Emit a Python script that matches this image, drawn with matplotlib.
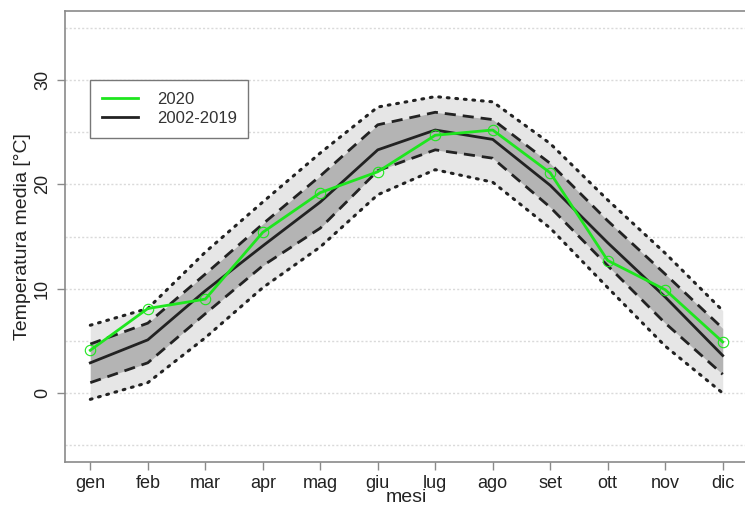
import matplotlib
matplotlib.use("Agg")
import matplotlib.pyplot as plt
from matplotlib.lines import Line2D

plt.rcParams['font.family'] = ['Liberation Sans', 'DejaVu Sans']

months = ["gen", "feb", "mar", "apr", "mag", "giu", "lug", "ago", "set", "ott", "nov", "dic"]

# 2002-2019 climatology: mean, inner band (dashed) and outer band (dotted)
clim_mean = [2.9, 5.1, 9.8, 14.1, 18.3, 23.3, 25.2, 24.3, 19.9, 14.4, 9.2, 3.6]
inner_hi = [4.7, 6.7, 11.4, 16.2, 20.8, 25.7, 26.9, 26.2, 22.0, 16.5, 11.4, 6.2]
inner_lo = [1.0, 2.9, 7.6, 12.2, 15.8, 21.3, 23.3, 22.5, 17.8, 12.2, 6.7, 1.8]
outer_hi = [6.5, 8.1, 13.5, 18.3, 23.0, 27.4, 28.4, 27.9, 23.9, 18.5, 13.4, 7.9]
outer_lo = [-0.6, 1.0, 5.3, 10.1, 14.0, 19.0, 21.4, 20.2, 15.8, 10.1, 4.5, 0.0]

# 2020 monthly mean temperature
t2020 = [4.1, 8.1, 9.0, 15.4, 19.2, 21.2, 24.7, 25.2, 21.1, 12.7, 9.9, 4.9]

y_ticks = [0, 10, 20, 30]
grid_levels = [-5, 0, 5, 10, 15, 20, 25, 30, 35]

x = list(range(1, 13))
green = '#1ee61e'
axis_col = '#8a8a8a'

fig = plt.figure(figsize=(7.45, 5.08), dpi=100)
ax = fig.add_axes([65 / 745, 46 / 508, (748 - 65) / 745, (497 - 46) / 508])

for g in grid_levels:
    ax.axhline(g, color='#dadada', lw=1, ls=(0, (1.5, 1.5)), zorder=0)

ax.fill_between(x, outer_lo, outer_hi, color='#e6e6e6', lw=0, zorder=1)
ax.fill_between(x, inner_lo, inner_hi, color='#b4b4b4', lw=0, zorder=2)

ax.plot(x, outer_hi, color='#222222', lw=2.2, ls=(0, (0.6, 2.2)), dash_capstyle='round', zorder=3)
ax.plot(x, outer_lo, color='#222222', lw=2.2, ls=(0, (0.6, 2.2)), dash_capstyle='round', zorder=3)
ax.plot(x, inner_hi, color='#222222', lw=2.0, ls=(0, (4, 2.5)), zorder=3)
ax.plot(x, inner_lo, color='#222222', lw=2.0, ls=(0, (4, 2.5)), zorder=3)
ax.plot(x, clim_mean, color='#222222', lw=2.0, zorder=4)
ax.plot(x, t2020, color=green, lw=2.0, marker='o', ms=7.5, mfc='none', mec=green, mew=0.8, zorder=5)

ax.set_xlim(0.56, 12.44)
ax.set_ylim(-6.6, 36.6)
ax.set_xticks(x)
ax.set_xticklabels(months, fontsize=13, color='#222222')
ax.set_yticks(y_ticks)
ax.set_yticklabels([str(v) for v in y_ticks], fontsize=13, color='#222222', rotation=90, va='center')
ax.tick_params(axis='both', color=axis_col, length=6, width=1)
ax.tick_params(axis='x', pad=3)
ax.tick_params(axis='y', pad=4)
for s in ax.spines.values():
    s.set_color(axis_col)
    s.set_linewidth(1.2)

ax.set_xlabel("mesi", fontsize=14, color='#222222', labelpad=-2)
ax.set_ylabel("Temperatura media [°C]", fontsize=14, color='#222222', labelpad=2)

handles = [Line2D([], [], color=green, lw=2), Line2D([], [], color='#222222', lw=2)]
leg = ax.legend(handles, ["2020", "2002-2019"], loc='upper left', bbox_to_anchor=((90 - 65) / 683, 1 - (80 - 11) / 451),
                fontsize=12, fancybox=False, framealpha=1, edgecolor='#777777', handlelength=2.2,
                borderpad=0.7, labelspacing=0.25, handletextpad=1.1, borderaxespad=0)
leg.get_frame().set_linewidth(1.0)
for t in leg.get_texts():
    t.set_color('#333333')

fig.savefig("out.png", dpi=100)
